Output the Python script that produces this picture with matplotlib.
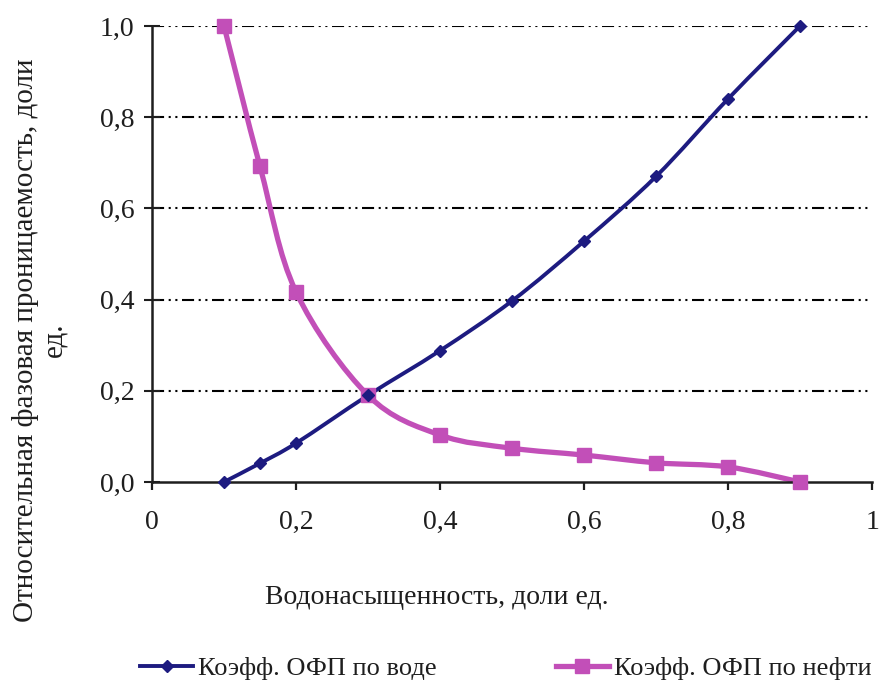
import matplotlib
matplotlib.use('Agg')
import matplotlib.pyplot as plt
from matplotlib.path import Path
from matplotlib.patches import PathPatch
from matplotlib.lines import Line2D

# water saturation, fraction
saturation = [0.1, 0.15, 0.2, 0.3, 0.4, 0.5, 0.6, 0.7, 0.8, 0.9]
# relative permeability to water
krw = [0.0, 0.041, 0.085, 0.19, 0.288, 0.397, 0.528, 0.67, 0.84, 1.0]
# relative permeability to oil
kro = [1.0, 0.692, 0.417, 0.19, 0.103, 0.074, 0.059, 0.042, 0.033, 0.0]

x_ticks = [0, 0.2, 0.4, 0.6, 0.8, 1.0]
x_tick_labels = ['0', '0,2', '0,4', '0,6', '0,8', '1']
y_ticks = [0, 0.2, 0.4, 0.6, 0.8, 1.0]
y_tick_labels = ['0,0', '0,2', '0,4', '0,6', '0,8', '1,0']

water_label = 'Коэфф. ОФП по воде'
oil_label = 'Коэфф. ОФП по нефти'
x_title = 'Водонасыщенность, доли ед.'
y_title = 'Относительная фазовая проницаемость, доли\nед.'

water_color = '#1d1b80'
oil_color = '#c24fb8'
text_color = '#1e1e1e'

plt.rcParams['font.family'] = ['Liberation Serif', 'DejaVu Serif']


def smooth_path(xs, ys):
    # excel-like smoothed line: catmull-rom segments as cubic beziers
    pts = list(zip(xs, ys))
    verts = [pts[0]]
    codes = [Path.MOVETO]
    n = len(pts)
    for i in range(n - 1):
        p0 = pts[i - 1] if i > 0 else pts[i]
        p1 = pts[i]
        p2 = pts[i + 1]
        p3 = pts[i + 2] if i + 2 < n else pts[i + 1]
        c1 = (p1[0] + (p2[0] - p0[0]) / 6, p1[1] + (p2[1] - p0[1]) / 6)
        c2 = (p2[0] - (p3[0] - p1[0]) / 6, p2[1] - (p3[1] - p1[1]) / 6)
        verts += [c1, c2, p2]
        codes += [Path.CURVE4] * 3
    return Path(verts, codes)


fig = plt.figure(figsize=(8.8, 6.91), dpi=100)
ax = fig.add_axes([0.1727, 0.3025, 0.8183, 0.66])

ax.add_patch(PathPatch(smooth_path(saturation, krw), fill=False, edgecolor=water_color,
                       lw=2.8, zorder=3, capstyle='round', joinstyle='round', clip_on=False))
ax.add_patch(PathPatch(smooth_path(saturation, kro), fill=False, edgecolor=oil_color,
                       lw=3.8, zorder=2, capstyle='round', joinstyle='round', clip_on=False))
ax.plot(saturation, krw, linestyle='none', marker='D', markersize=6.5, color=water_color,
        zorder=4, clip_on=False)
ax.plot(saturation, kro, linestyle='none', marker='s', markersize=10, color=oil_color,
        zorder=3, clip_on=False)

ax.set_xlim(0, 1)
ax.set_ylim(0, 1)
ax.set_xticks(x_ticks)
ax.set_xticklabels(x_tick_labels)
ax.set_yticks(y_ticks)
ax.set_yticklabels(y_tick_labels)

for y in y_ticks[1:]:
    ax.axhline(y, color='black', lw=1.5, linestyle=(0, (5.8, 2.2, 1, 2.2, 1, 2.2)), zorder=1)

for side in ['top', 'right']:
    ax.spines[side].set_visible(False)
for side in ['left', 'bottom']:
    ax.spines[side].set_linewidth(1.8)
    ax.spines[side].set_color(text_color)

ax.tick_params(axis='x', direction='out', length=6, width=1.6, pad=14, labelsize=20, colors=text_color)
ax.tick_params(axis='y', direction='inout', length=11, width=1.5, pad=7, labelsize=20, colors=text_color)

fig.text(0.4966, 0.1346, x_title, ha='center', va='center', fontsize=20, color=text_color)
fig.text(0.045, 0.508, y_title, ha='center', va='center', rotation=90,
         multialignment='center', fontsize=21, color=text_color, linespacing=1.1)

handles = [
    Line2D([], [], color=water_color, lw=2.8, marker='D', markersize=6.5),
    Line2D([], [], color=oil_color, lw=3.8, marker='s', markersize=10),
]
fig.legend(handles, [water_label, oil_label], loc='center', bbox_to_anchor=(0.575, 0.033),
           ncol=2, frameon=False, fontsize=19, handlelength=2.0, handletextpad=0.2,
           columnspacing=4.5, labelcolor=text_color)

fig.savefig('out.png', dpi=100)
